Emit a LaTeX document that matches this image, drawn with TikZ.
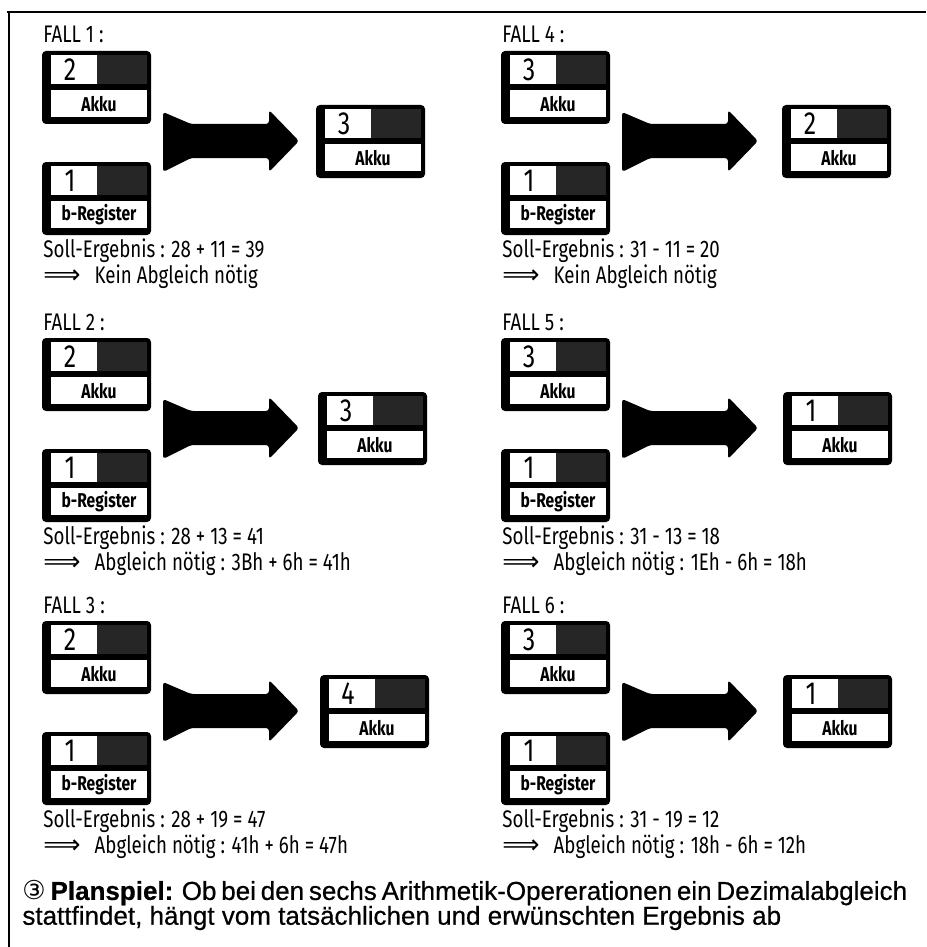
\documentclass[tikz,border=0pt]{standalone}
\usepackage{fontspec}
\newfontfamily\dinfont{Fira Sans}[FakeStretch=0.78]
\newfontfamily\helvfont{Liberation Sans}[FakeBold=0.6]
\newfontfamily\symfont{DejaVu Sans}

% register box: #1 top-left corner, #2 number, #3 label, #4 name
\newcommand{\regbox}[4]{%
  \begin{scope}[shift={#1}]
    \fill[rounded corners=2] (0,0) rectangle (109,73);
    \fill[white] (9,4) rectangle (55,33);
    \fill[black!85] (55,4) rectangle (105,33);
    \fill[white] (9,39) rectangle (105,66);
    \node[zahl] (#4z) at (28,19) {#2};
    \node[marke] (#4) at (57,53) {#3};
  \end{scope}}

\begin{document}
\begin{tikzpicture}[x=0.5pt, y=-0.5pt,
    zahl/.style={font=\dinfont\fontsize{16}{16}\selectfont, inner sep=0},
    marke/.style={font=\dinfont\bfseries\fontsize{10}{10}\selectfont, inner sep=0},
    zeile/.style={anchor=west, inner sep=0, text height=8pt, text depth=2pt,
      font=\dinfont\fontsize{12}{12}\selectfont},
    pfeil/.style={fill=black, rounded corners=1.5}]
  \useasboundingbox (0,0) rectangle (926,947);
  % frame
  \draw[line width=0.7pt] (7,12) -- (926,12);
  \draw[line width=0.6pt] (9,12) -- (9,947);
  % the six cases
  \foreach \n/\cx/\y/\a/\r/\rx/\soll/\abgl in {
      1/0/37/2/3/316/{28 + 11 = 39}/{Kein Abgleich nötig},
      2/0/324/2/3/318/{28 + 13 = 41}/{Abgleich nötig : 3Bh + 6h = 41h},
      3/0/607/2/4/320/{28 + 19 = 47}/{Abgleich nötig : 41h + 6h = 47h},
      4/459/37/3/2/782/{31 - 11 = 20}/{Kein Abgleich nötig},
      5/459/324/3/1/783/{31 - 13 = 18}/{Abgleich nötig : 1Eh - 6h = 18h},
      6/459/607/3/1/783/{31 - 19 = 12}/{Abgleich nötig : 18h - 6h = 12h}}
  {
    \node[zeile] (fall\n) at (\cx+43,\y) {FALL \n\ :};
    \regbox{(\cx+42,\y+14)}{\a}{Akku}{akku\n}
    \regbox{(\cx+42,\y+125)}{1}{b-Register}{breg\n}
    \begin{scope}[shift={(\cx+163,\y+73)}]
      \fill[pfeil] (0,2) -- (28,14) -- (106,14) -- (106,0) -- (136,31)
        -- (106,62) -- (106,48) -- (28,48) -- (0,62) -- cycle;
    \end{scope}
    \regbox{(\rx,\y+68)}{\r}{Akku}{erg\n}
    \node[zeile] (soll\n) at (\cx+43,\y+214) {Soll-Ergebnis : \soll};
    \node[zeile] (abgl\n) at (\cx+43,\y+240) {{\symfont\fontsize{13}{13}\selectfont ⟹}\hspace{7pt}\abgl};
  }
  % caption
  \node[anchor=west, inner sep=0, font=\helvfont\fontsize{13}{13}\selectfont] (titel)
    at (22,893) {\makebox[441.5pt][s]{{\symfont ③} \textbf{Planspiel:} Ob bei den sechs
      Arithmetik-Opererationen ein Dezimalabgleich}};
  \node[anchor=west, inner sep=0, font=\helvfont\fontsize{13}{13}\selectfont] (titel2)
    at (22,918) {stattfindet, hängt vom tatsächlichen und erwünschten Ergebnis ab};
\end{tikzpicture}
\end{document}
